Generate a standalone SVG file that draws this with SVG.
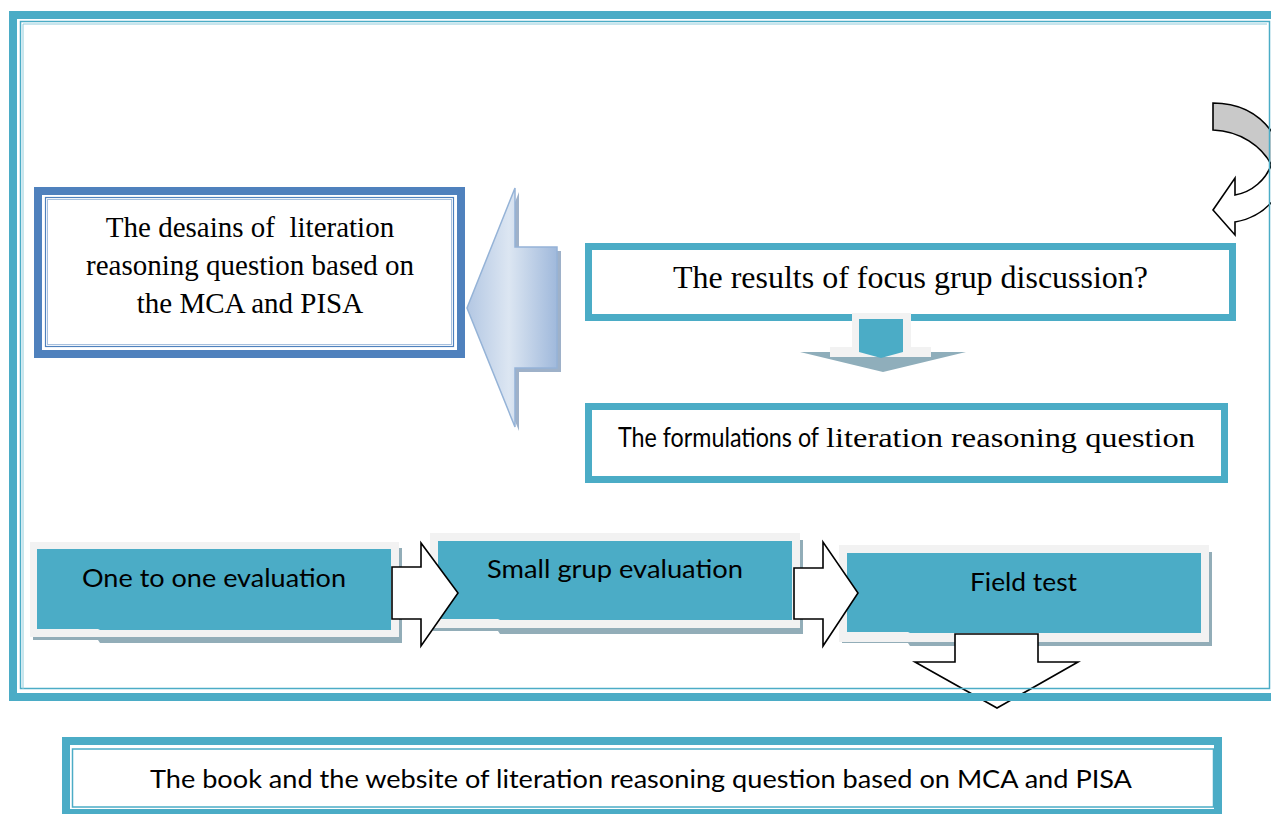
<svg xmlns="http://www.w3.org/2000/svg" width="1271" height="814" viewBox="0 0 1271 814">
<defs>
<linearGradient id="blueArrow" x1="467" y1="0" x2="560" y2="0" gradientUnits="userSpaceOnUse">
<stop offset="0" stop-color="#B3C7E3"/>
<stop offset="0.45" stop-color="#DCE6F2"/>
<stop offset="1" stop-color="#9CB6DA"/>
</linearGradient>
</defs>
<style>
.serif{font-family:"Liberation Serif","Times New Roman",serif;fill:#000}
.sans{font-family:Lato,"Liberation Sans",sans-serif;fill:#000}
.teal{fill:#4BACC6}
.panel{fill:#F2F2F2}
.shadow{fill:#92ADB8}
.block{fill:#FFFFFF;stroke:#000;stroke-width:1.6;stroke-linejoin:miter}
.tealbox{fill:#FFFFFF;stroke:#4BACC6;stroke-width:7}
</style>
<rect x="0" y="0" width="1271" height="814" fill="#FFFFFF"/>

<g id="node-designs">
<rect x="38" y="191" width="423" height="163" fill="#FFFFFF" stroke="#4F81BD" stroke-width="8"/>
<rect x="45.5" y="197.5" width="408" height="149" fill="none" stroke="#4F81BD" stroke-width="1.2"/>
<rect x="47.5" y="199.5" width="404" height="145" fill="none" stroke="#A7C0DE" stroke-width="1"/>
<text class="serif" font-size="29" text-anchor="middle" xml:space="preserve"><tspan x="250" y="237">The desains of  literation</tspan><tspan x="250" y="275">reasoning question based on</tspan><tspan x="250" y="313">the MCA and PISA</tspan></text>
</g>

<g id="node-results">
<rect class="tealbox" x="588.5" y="246.5" width="644" height="71"/>
<text class="serif" x="910.5" y="288" font-size="31" text-anchor="middle" textLength="475" lengthAdjust="spacingAndGlyphs">The results of focus grup discussion?</text>
</g>

<g id="node-formulations">
<rect class="tealbox" x="588.5" y="406.5" width="636" height="73"/>
<text y="447"><tspan class="sans" x="618" font-size="26" textLength="201" lengthAdjust="spacingAndGlyphs">The formulations of</tspan><tspan class="serif" x="826" font-size="28" textLength="369" lengthAdjust="spacingAndGlyphs">literation reasoning question</tspan></text>
</g>

<g id="node-one-to-one">
<path class="shadow" d="M33,548 H402 V643 H100 L98,640 H33 Z"/>
<rect class="panel" x="30" y="542" width="369" height="95"/>
<path class="teal" d="M37,549 H391 V630 H100 L98,629 H37 Z"/>
<text class="sans" x="82" y="587" font-size="25" textLength="264" lengthAdjust="spacingAndGlyphs">One to one evaluation</text>
</g>

<g id="node-small-grup">
<path class="shadow" d="M433,540 H803 V634 H500 L498,631 H433 Z"/>
<rect class="panel" x="430" y="533" width="370" height="95"/>
<path class="teal" d="M438,541 H792 V620 H500 L498,619 H438 Z"/>
<text class="sans" x="487" y="578" font-size="25" textLength="256" lengthAdjust="spacingAndGlyphs">Small grup evaluation</text>
</g>

<g id="node-field-test">
<path class="shadow" d="M842,552 H1212 V646 H910 L908,643 H842 Z"/>
<rect class="panel" x="839" y="545" width="370" height="97"/>
<path class="teal" d="M847,553 H1201 V633 H910 L908,632 H847 Z"/>
<text class="sans" x="970" y="591" font-size="25" textLength="107" lengthAdjust="spacingAndGlyphs">Field test</text>
</g>

<g id="node-book">
<rect x="66" y="741" width="1152" height="72" fill="#FFFFFF" stroke="#4BACC6" stroke-width="8"/>
<rect x="72.5" y="749" width="1141" height="58" fill="none" stroke="#4BACC6" stroke-width="1.5"/>
<text class="sans" x="150" y="788" font-size="25" textLength="982" lengthAdjust="spacingAndGlyphs">The book and the website of literation reasoning question based on MCA and PISA</text>
</g>

<g id="connectors">
<path d="M1213,103 C1240,103 1262,115 1276,138 L1285,138 L1285,172 L1272,166 C1262,146 1240,131 1213,130 Z" fill="#C9C9C9" stroke="#000" stroke-width="1.6"/>
<path d="M1272,163 C1266,180 1252,192 1235,195 L1235,178 L1213,210 L1235,235 L1235,222 C1252,219 1266,210 1275,198 L1285,196 L1285,160 Z" fill="#FFFFFF" stroke="#000" stroke-width="1.6"/>
<polygon points="519,192 519,251 561,251 561,372 519,372 519,431 471,312" fill="#8DA3C0" opacity="0.85"/>
<polygon points="515,188 515,247 557,247 557,368 515,368 515,427 467,308" fill="url(#blueArrow)" stroke="#95B3D7" stroke-width="1.5"/>
<polygon points="800,352 966,352 883,372" fill="#8FAEBB"/>
<polygon points="852,313 911,313 911,347 931,347 931,357 830,357 830,347 852,347" fill="#F2F2F2"/>
<polygon points="859,319 903,319 903,352 881,358 859,352" fill="#4BACC6"/>
<polygon class="block" points="392,567 421,567 421,543 458,593 421,646 421,619 392,619"/>
<polygon class="block" points="794,568 823,568 823,542 858,593 823,646 823,619 794,619"/>
<polygon class="block" points="955,634 1038,634 1038,662 1078,662 997,708 915,662 955,662"/>
</g>

<g id="frame">
<path d="M1290,15 H13 V697 H1290" fill="none" stroke="#4BACC6" stroke-width="8"/>
<rect x="20.5" y="21.5" width="1249" height="667" fill="none" stroke="#4BACC6" stroke-width="1.5"/>
<path d="M23,689 V24 H1267" fill="none" stroke="#8FCCDC" stroke-width="1"/>
</g>
</svg>
